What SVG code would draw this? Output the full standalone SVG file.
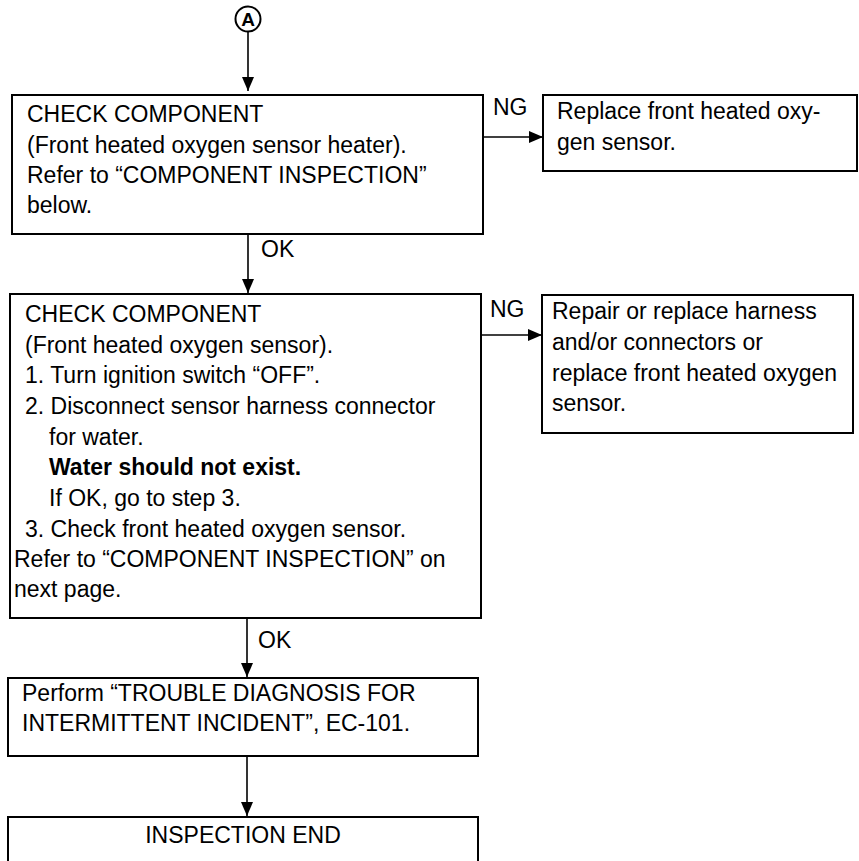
<svg xmlns="http://www.w3.org/2000/svg" width="859" height="861" viewBox="0 0 859 861">
<style>
.box{fill:#fff;stroke:#000;stroke-width:2}
.t{font-family:"Liberation Sans",Arial,sans-serif;font-size:23px;fill:#000}
.b{font-weight:bold}
.ln{stroke:#000;stroke-width:1.6;fill:none}
</style>
<defs>
<marker id="ah" viewBox="0 0 14 12" refX="14" refY="6" markerWidth="14" markerHeight="12" markerUnits="userSpaceOnUse" orient="auto">
<path d="M0,0 L14,6 L0,12 Z" fill="#000"/>
</marker>
</defs>
<rect width="859" height="861" fill="#fff"/>
<g id="connectors">
<line class="ln" x1="248" y1="32" x2="248" y2="91" marker-end="url(#ah)"/>
<line class="ln" x1="248" y1="234" x2="248" y2="293" marker-end="url(#ah)"/>
<line class="ln" x1="483" y1="137" x2="543" y2="137" marker-end="url(#ah)"/>
<line class="ln" x1="481" y1="335" x2="542" y2="335" marker-end="url(#ah)"/>
<line class="ln" x1="247" y1="618" x2="247" y2="677" marker-end="url(#ah)"/>
<line class="ln" x1="247" y1="756" x2="247" y2="816" marker-end="url(#ah)"/>
<text class="t" x="261" y="257">OK</text>
<text class="t" x="493" y="115">NG</text>
<text class="t" x="490" y="317">NG</text>
<text class="t" x="258" y="648">OK</text>
</g>
<g id="startA">
<circle cx="248" cy="19" r="12.5" fill="#fff" stroke="#000" stroke-width="2"/>
<text x="248" y="26" text-anchor="middle" style="font-family:'Liberation Sans',Arial,sans-serif;font-size:19px;font-weight:bold">A</text>
</g>
<g id="check1">
<rect class="box" x="12" y="95" width="471" height="139"/>
<text class="t" x="27" y="122">CHECK COMPONENT</text>
<text class="t" x="27" y="153">(Front heated oxygen sensor heater).</text>
<text class="t" x="27" y="183">Refer to “COMPONENT INSPECTION”</text>
<text class="t" x="27" y="213">below.</text>
</g>
<g id="replace1">
<rect class="box" x="543" y="95" width="314" height="76"/>
<text class="t" x="557" y="119">Replace front heated oxy-</text>
<text class="t" x="557" y="150">gen sensor.</text>
</g>
<g id="check2">
<rect class="box" x="10" y="294" width="471" height="324"/>
<text class="t" x="25" y="322">CHECK COMPONENT</text>
<text class="t" x="25" y="353">(Front heated oxygen sensor).</text>
<text class="t" x="25" y="383">1. Turn ignition switch “OFF”.</text>
<text class="t" x="25" y="414">2. Disconnect sensor harness connector</text>
<text class="t" x="49" y="445">for water.</text>
<text class="t b" x="49" y="475">Water should not exist.</text>
<text class="t" x="49" y="506">If OK, go to step 3.</text>
<text class="t" x="25" y="537">3. Check front heated oxygen sensor.</text>
<text class="t" x="14" y="567">Refer to “COMPONENT INSPECTION” on</text>
<text class="t" x="14" y="597">next page.</text>
</g>
<g id="repair2">
<rect class="box" x="542" y="295" width="311" height="138"/>
<text class="t" x="552" y="319">Repair or replace harness</text>
<text class="t" x="552" y="350">and/or connectors or</text>
<text class="t" x="552" y="381">replace front heated oxygen</text>
<text class="t" x="552" y="411">sensor.</text>
</g>
<g id="perform">
<rect class="box" x="8" y="678" width="470" height="78"/>
<text class="t" x="22" y="701">Perform “TROUBLE DIAGNOSIS FOR</text>
<text class="t" x="22" y="731">INTERMITTENT INCIDENT”, EC-101.</text>
</g>
<g id="end">
<rect class="box" x="8" y="817" width="470" height="70"/>
<text class="t" x="243" y="843" text-anchor="middle">INSPECTION END</text>
</g>
</svg>
